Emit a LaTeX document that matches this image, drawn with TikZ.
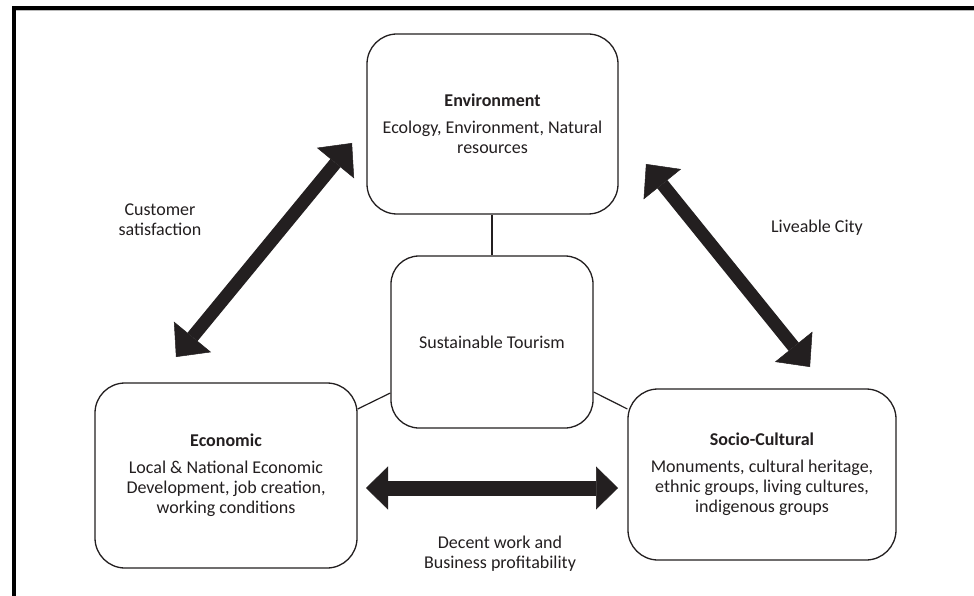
\documentclass[tikz,border=0pt]{standalone}
\usepackage{fontspec}
\setmainfont{Carlito}
\usetikzlibrary{arrows.meta,calc}
\definecolor{ink}{HTML}{231F20}
\begin{document}
\begin{tikzpicture}[x=1pt,y=-1pt,
  txt/.style={font=\fontsize{18}{20}\selectfont, text=ink, align=center},
  box/.style={txt, draw=ink, line width=1.3pt, rounded corners=30pt, inner sep=0pt},
  link/.style={draw=ink, line width=1.2pt},
  fat/.style={draw=ink, fill=ink, line width=13pt,
    {Triangle[width=48pt,length=26pt,line width=0.5pt]}-{Triangle[width=48pt,length=26pt,line width=0.5pt]}},
  fatflat/.style={draw=ink, fill=ink, line width=15pt,
    {Triangle[width=43pt,length=22pt,line width=0.5pt]}-{Triangle[width=43pt,length=22pt,line width=0.5pt]}},
  lbl/.style={txt, inner sep=0pt}]
\useasboundingbox (0,0) rectangle (974,596);
\fill[white] (0,0) rectangle (974,596);
% frame (only top and left edges visible)
\draw[gray!55, line width=1pt] (15.5,10.8) -- (974,10.8);
\draw[black, line width=4pt] (13.5,596) -- (13.5,8) -- (974,8);

% boxes
\node[box, minimum width=251pt, minimum height=180pt] (env) at (492.5,124)
  {\textbf{Environment}\\[7pt]Ecology, Environment, Natural\\resources};
\node[box, rounded corners=28pt, minimum width=202pt, minimum height=172pt] (st) at (492,342)
  {Sustainable Tourism};
\node[box, minimum width=262pt, minimum height=185pt] (eco) at (226,475.5)
  {\textbf{Economic}\\[7pt]Local \& National Economic\\Development, job creation,\\working conditions};
\node[box, minimum width=268pt, minimum height=171pt] (soc) at (762,474.5)
  {\textbf{Socio-Cultural}\\[7pt]Monuments, cultural heritage,\\ethnic groups, living cultures,\\indigenous groups};

% thin links
\draw[link] (st.north) -- (st.north |- env.south);
\draw[link] ($(st.west)+(0,51)$) -- ($(eco.east)+(0,-66.5)$);
\draw[link] ($(st.east)+(0,50)$) -- ($(soc.west)+(0,-65.5)$);

% thick double arrows
\coordinate (c1) at (176,357);
\coordinate (c2) at (352,143);
\draw[fat] (c1) -- (c2);
\coordinate (l1) at (646,164);
\coordinate (l2) at (810,367);
\draw[fat] (l1) -- (l2);
\coordinate (d1) at (366,488);
\coordinate (d2) at (618,488);
\draw[fatflat] (d1) -- (d2);

% labels
\node[lbl] (cs) at (160,220) {Customer\\satisfaction};
\node[lbl] (lc) at (817,228) {Liveable City};
\node[lbl] (dw) at (500,554) {Decent work and\\Business profitability};
\end{tikzpicture}
\end{document}
